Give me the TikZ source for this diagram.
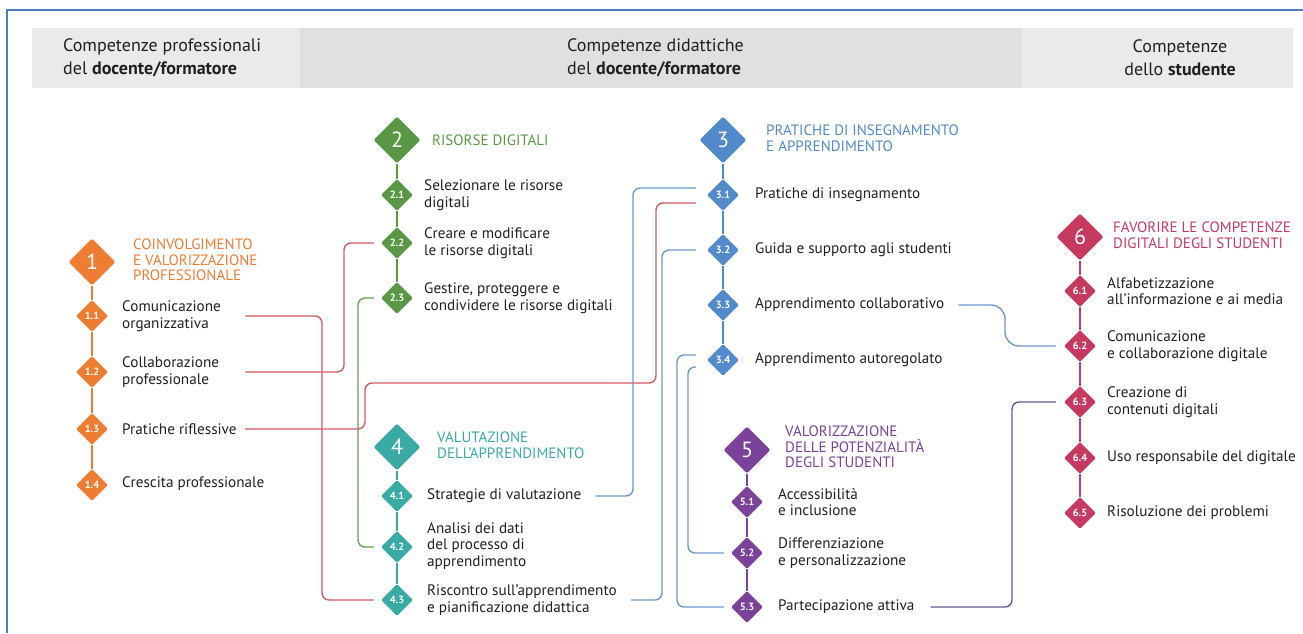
\documentclass[tikz,border=0pt]{standalone}
\usepackage{fontspec}
\setmainfont{PT Sans}
\usepackage{tikz}
\usetikzlibrary{shapes.geometric,positioning,calc}

\definecolor{frameblue}{RGB}{74,126,187}
\definecolor{bandA}{RGB}{234,234,234}
\definecolor{bandB}{RGB}{224,224,224}
\definecolor{ink}{RGB}{35,31,32}
\definecolor{corange}{RGB}{238,124,50}
\definecolor{cgreen}{RGB}{91,152,70}
\definecolor{cblue}{RGB}{82,138,203}
\definecolor{cteal}{RGB}{58,170,165}
\definecolor{cpurple}{RGB}{122,66,152}
\definecolor{ccrimson}{RGB}{198,58,98}
\definecolor{wred}{RGB}{214,90,98}
\definecolor{wblue}{RGB}{112,152,205}
\definecolor{wgreen}{RGB}{104,160,84}
\definecolor{wpurple}{RGB}{104,84,140}

\begin{document}
\begin{tikzpicture}[x=1pt,y=-1pt,
    bignum/.style={diamond,fill=#1,text=white,minimum size=47pt,inner sep=0pt,
      rounded corners=2pt,font=\fontsize{22}{22}\selectfont},
    subnum/.style={diamond,fill=#1,text=white,minimum size=32pt,inner sep=0pt,
      rounded corners=1.5pt,font=\fontsize{10.5}{10.5}\selectfont\bfseries},
    heading/.style={anchor=west,align=left,inner sep=0pt,text=#1,
      font=\fontsize{15}{15.5}\selectfont},
    entry/.style={anchor=west,align=left,inner sep=0pt,text=ink,
      font=\fontsize{15.2}{16.5}\selectfont},
    colhead/.style={inner sep=0pt,text=ink,font=\fontsize{18}{23}\selectfont},
    spine/.style={draw=#1,line width=1.6pt},
    wire/.style={draw=#1,line width=1.4pt,rounded corners=7pt}]
  \useasboundingbox (0,0) rectangle (1303,633);
  %\draw[style=help lines,step=50] (0,0) grid (1303,633);

  % frame and header band
  \draw[frameblue,line width=2pt] (7,633) -- (7,10) -- (1303,10);
  \fill[bandA] (32,28) rectangle (300,88);
  \fill[bandB] (300,28) rectangle (1022,88);
  \fill[bandA] (1022,28) rectangle (1293,88);
  \node[colhead,anchor=west,align=left] (hprof) at (63,58)
    {Competenze professionali\\del \textbf{docente/formatore}};
  \node[colhead,anchor=west,align=left] (hdid) at (567,58)
    {Competenze didattiche\\del \textbf{docente/formatore}};
  \node[colhead,align=center] (hstud) at (1180,58)
    {Competenze\\dello \textbf{studente}};

  % 1
  \node[bignum=corange] (d1) at (92,262) {1};
  \node[subnum=corange] (d11) at (92,316) {1.1};
  \node[subnum=corange] (d12) at (92,372) {1.2};
  \node[subnum=corange] (d13) at (92,429) {1.3};
  \node[subnum=corange] (d14) at (92,485) {1.4};
  \draw[spine=corange] (d1.south) -- (d11.north) (d11.south) -- (d12.north)
    (d12.south) -- (d13.north) (d13.south) -- (d14.north);
  \node[heading=corange] (h1) at (133,260)
    {COINVOLGIMENTO\\E VALORIZZAZIONE\\PROFESSIONALE};
  \node[entry] (t11) at (122,316) {Comunicazione\\organizzativa};
  \node[entry] (t12) at (122,372) {Collaborazione\\professionale};
  \node[entry] (t13) at (122,429) {Pratiche riflessive};
  \node[entry] (t14) at (122,484) {Crescita professionale};

  % 2
  \node[bignum=cgreen] (d2) at (397,140) {2};
  \node[subnum=cgreen] (d21) at (397,195) {2.1};
  \node[subnum=cgreen] (d22) at (397,243) {2.2};
  \node[subnum=cgreen] (d23) at (397,298) {2.3};
  \draw[spine=cgreen] (d2.south) -- (d21.north) (d21.south) -- (d22.north)
    (d22.south) -- (d23.north);
  \node[heading=cgreen] (h2) at (432,140) {RISORSE DIGITALI};
  \node[entry] (t21) at (424,195) {Selezionare le risorse\\digitali};
  \node[entry] (t22) at (424,243) {Creare e modificare\\le risorse digitali};
  \node[entry] (t23) at (424,298) {Gestire, proteggere e\\condividere le risorse digitali};

  % 4
  \node[bignum=cteal] (d4) at (397,447) {4};
  \node[subnum=cteal] (d41) at (397,496) {4.1};
  \node[subnum=cteal] (d42) at (397,547) {4.2};
  \node[subnum=cteal] (d43) at (397,600) {4.3};
  \draw[spine=cteal] (d4.south) -- (d41.north) (d41.south) -- (d42.north)
    (d42.south) -- (d43.north);
  \node[heading=cteal] (h4) at (437,445) {VALUTAZIONE\\DELL'APPRENDIMENTO};
  \node[entry] (t41) at (427,496) {Strategie di valutazione};
  \node[entry] (t42) at (427,546) {Analisi dei dati\\del processo di\\apprendimento};
  \node[entry] (t43) at (427,600) {Riscontro sull'apprendimento\\e pianificazione didattica};

  % 3
  \node[bignum=cblue] (d3) at (723,140) {3};
  \node[subnum=cblue] (d31) at (723,195) {3.1};
  \node[subnum=cblue] (d32) at (723,250) {3.2};
  \node[subnum=cblue] (d33) at (723,305) {3.3};
  \node[subnum=cblue] (d34) at (723,360) {3.4};
  \draw[spine=cblue] (d3.south) -- (d31.north) (d31.south) -- (d32.north)
    (d32.south) -- (d33.north) (d33.south) -- (d34.north);
  \node[heading=cblue] (h3) at (766,138) {PRATICHE DI INSEGNAMENTO\\E APPRENDIMENTO};
  \node[entry] (t31) at (755,195) {Pratiche di insegnamento};
  \node[entry] (t32) at (755,250) {Guida e supporto agli studenti};
  \node[entry] (t33) at (755,305) {Apprendimento collaborativo};
  \node[entry] (t34) at (755,360) {Apprendimento autoregolato};

  % 5
  \node[bignum=cpurple] (d5) at (747,450) {5};
  \node[subnum=cpurple] (d51) at (747,502) {5.1};
  \node[subnum=cpurple] (d52) at (747,553) {5.2};
  \node[subnum=cpurple] (d53) at (747,607) {5.3};
  \draw[spine=cpurple] (d5.south) -- (d51.north) (d51.south) -- (d52.north)
    (d52.south) -- (d53.north);
  \node[heading=cpurple] (h5) at (785,447)
    {VALORIZZAZIONE\\DELLE POTENZIALITÀ\\DEGLI STUDENTI};
  \node[entry] (t51) at (778,502) {Accessibilità\\e inclusione};
  \node[entry] (t52) at (778,553) {Differenziazione\\e personalizzazione};
  \node[entry] (t53) at (778,607) {Partecipazione attiva};

  % 6
  \node[bignum=ccrimson] (d6) at (1080,237) {6};
  \node[subnum=ccrimson] (d61) at (1080,291) {6.1};
  \node[subnum=ccrimson] (d62) at (1080,346) {6.2};
  \node[subnum=ccrimson] (d63) at (1080,402) {6.3};
  \node[subnum=ccrimson] (d64) at (1080,458) {6.4};
  \node[subnum=ccrimson] (d65) at (1080,513) {6.5};
  \draw[spine=ccrimson] (d6.south) -- (d61.north) (d61.south) -- (d62.north)
    (d62.south) -- (d63.north) (d63.south) -- (d64.north) (d64.south) -- (d65.north);
  \node[heading=ccrimson] (h6) at (1113,235)
    {FAVORIRE LE COMPETENZE\\DIGITALI DEGLI STUDENTI};
  \node[entry] (t61) at (1107,291) {Alfabetizzazione\\all'informazione e ai media};
  \node[entry] (t62) at (1107,346) {Comunicazione\\e collaborazione digitale};
  \node[entry] (t63) at (1107,402) {Creazione di\\contenuti digitali};
  \node[entry] (t64) at (1107,458) {Uso responsabile del digitale};
  \node[entry] (t65) at (1107,513) {Risoluzione dei problemi};

  % lanes and entry points
  \coordinate (o1) at (245,0);
  \coordinate (la) at (322,0);
  \coordinate (lb) at (344,0);
  \coordinate (lc) at (365,383);
  \coordinate (ld) at (656,0);
  \coordinate (lg) at (358,0);
  \coordinate (le) at (633,0);
  \coordinate (lf) at (662,0);
  \coordinate (lh) at (677,0);
  \coordinate (li) at (688,0);
  \coordinate (lj) at (1005,0);
  \coordinate (lk) at (1012,0);
  \coordinate (in31a) at ([shift={(-11pt,7pt)}]d31.west);
  \coordinate (in31b) at ([shift={(-11pt,-8pt)}]d31.west);
  \coordinate (in34a) at ([shift={(-11pt,5pt)}]d34.west);
  \coordinate (in34b) at ([shift={(-11pt,-7pt)}]d34.west);

  % links between competences
  \draw[wire=wred] (o1 |- t11) -| (la |- d43) -- ([xshift=-7pt]d43.west);
  \draw[wire=wred] (o1 |- t12) -| (lb |- d22) -- ([xshift=-7pt]d22.west);
  \draw[wire=wred] (o1 |- t13) -| (lc) -| (ld |- in31b) -- (in31b);
  \draw[wire=wgreen] ([xshift=-7pt]d23.west) -| (lg |- d42) -- ([xshift=-7pt]d42.west);
  \draw[wire=wblue] ([xshift=14pt]t41.east) -| (le |- in31a) -- (in31a);
  \draw[wire=wblue] ([xshift=14pt]t43.east) -| (lf |- d32) -- ([xshift=-11pt]d32.west);
  \draw[wire=wblue] (in34a) -| (lh |- d53) -- ([xshift=-7pt]d53.west);
  \draw[wire=wblue] (in34b) -| (li |- d52) -- ([xshift=-7pt]d52.west);
  \draw[wire=wblue,rounded corners=14pt] ([xshift=14pt]t33.east) -| (lj |- d62)
    -- ([xshift=-8pt]d62.west);
  \draw[wire=wpurple] ([xshift=16pt]t53.east) -| (lk |- d63) -- ([xshift=-8pt]d63.west);
\end{tikzpicture}
\end{document}
